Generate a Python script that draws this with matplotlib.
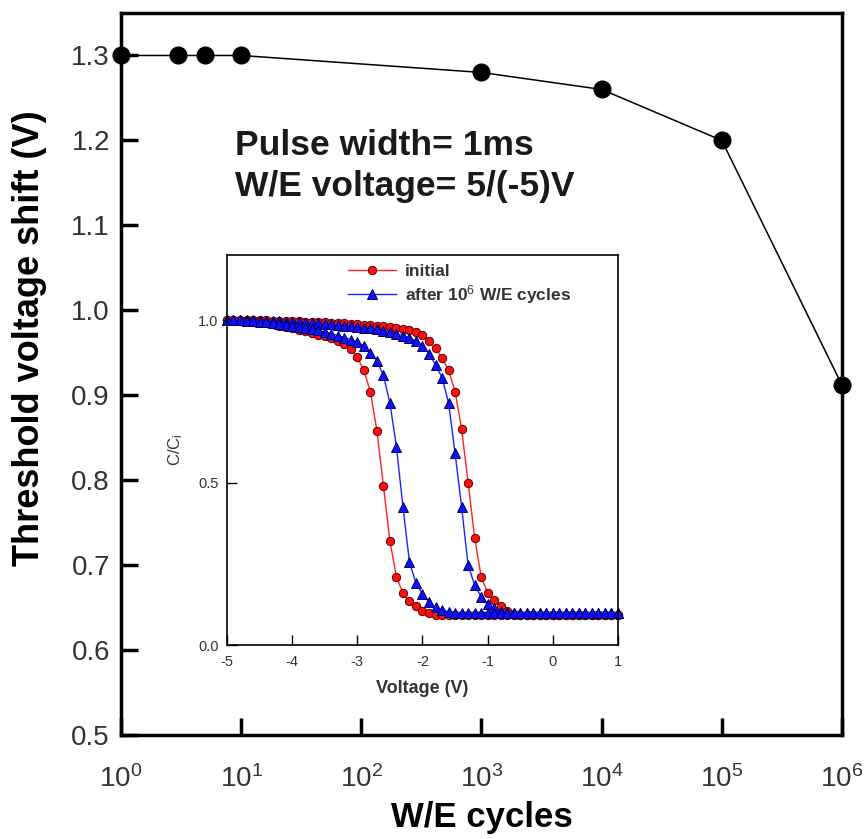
import numpy as np
import matplotlib
matplotlib.use('Agg')
import matplotlib.pyplot as plt

plt.rcParams['font.family'] = ['Liberation Sans', 'DejaVu Sans']
plt.rcParams['mathtext.fontset'] = 'custom'
plt.rcParams['mathtext.rm'] = 'Liberation Sans'
plt.rcParams['mathtext.it'] = 'Liberation Sans:italic'
plt.rcParams['mathtext.bf'] = 'Liberation Sans:bold'

# main plot: threshold voltage shift vs W/E cycles
cycles = [1, 3, 5, 10, 1e3, 1e4, 1e5, 1e6]
vth_shift = [1.30, 1.30, 1.30, 1.30, 1.28, 1.26, 1.20, 0.912]
x_tick_labels = ['10$^{0}$', '10$^{1}$', '10$^{2}$', '10$^{3}$',
                 '10$^{4}$', '10$^{5}$', '10$^{6}$']

# inset: C/Ci vs gate voltage, sweep step 0.1 V from -5 to 1
voltage = np.round(np.arange(-50, 11) / 10, 1)

initial_up = [1.0, 1.0, 1.0, 1.0, 1.0, 0.999, 0.999, 0.998, 0.998, 0.997,
              0.997, 0.996, 0.995, 0.995, 0.994, 0.993, 0.992, 0.991, 0.99, 0.989,
              0.988, 0.986, 0.985, 0.983, 0.981, 0.979, 0.976, 0.973, 0.969, 0.962,
              0.953, 0.937, 0.913, 0.884, 0.845, 0.78, 0.665, 0.50, 0.33, 0.21,
              0.16, 0.138, 0.12, 0.105, 0.095, 0.092] + [0.092] * 15
initial_down = [1.0, 1.0, 0.998, 0.997, 0.995, 0.993, 0.99, 0.987, 0.983, 0.978,
                0.974, 0.97, 0.966, 0.961, 0.955, 0.95, 0.944, 0.935, 0.925, 0.91,
                0.885, 0.845, 0.78, 0.66, 0.49, 0.32, 0.21, 0.16, 0.135, 0.12,
                0.105, 0.098, 0.093] + [0.092] * 28
cycled_up = [1.0, 1.0, 1.0, 0.999, 0.999, 0.998, 0.998, 0.997, 0.996, 0.995,
             0.994, 0.993, 0.992, 0.991, 0.99, 0.989, 0.987, 0.985, 0.983, 0.981,
             0.979, 0.977, 0.974, 0.971, 0.967, 0.963, 0.958, 0.952, 0.945, 0.935,
             0.92, 0.897, 0.862, 0.823, 0.745, 0.59, 0.425, 0.245, 0.185, 0.148,
             0.127, 0.113, 0.106, 0.102] + [0.10] * 17
cycled_down = [1.0, 1.0, 0.999, 0.998, 0.997, 0.995, 0.993, 0.991, 0.989, 0.986,
               0.983, 0.98, 0.976, 0.972, 0.968, 0.963, 0.958, 0.952, 0.946, 0.94,
               0.932, 0.92, 0.90, 0.874, 0.83, 0.745, 0.61, 0.425, 0.255, 0.19,
               0.157, 0.132, 0.116, 0.107, 0.103] + [0.10] * 26

fig = plt.figure(figsize=(8.68, 8.39), dpi=100)
ax = fig.add_axes([0.1394, 0.124, 0.8306, 0.8605])

ax.plot(cycles, vth_shift, '-o', color='black', lw=1.1, markersize=12,
        clip_on=False, zorder=5)
ax.set_xscale('log')
ax.set_xlim(1, 1e6)
ax.set_ylim(0.5, 1.35)
ax.set_xticks([1, 1e1, 1e2, 1e3, 1e4, 1e5, 1e6])
ax.set_xticklabels(x_tick_labels)
ax.xaxis.set_minor_locator(matplotlib.ticker.NullLocator())
ax.set_yticks([0.5, 0.6, 0.7, 0.8, 0.9, 1.0, 1.1, 1.2, 1.3])
ax.set_yticklabels(['0.5', '0.6', '0.7', '0.8', '0.9', '1.0', '1.1', '1.2', '1.3'])
ax.tick_params(direction='in', length=12, width=2.5, labelsize=20,
               labelcolor='#333333')
ax.tick_params(axis='x', pad=22)
ax.tick_params(axis='y', pad=8)
for s in ax.spines.values():
    s.set_linewidth(2.5)
ax.set_xlabel('W/E cycles', fontsize=25, fontweight='bold')
ax.xaxis.set_label_coords(0.5, -0.092)
ax.set_ylabel('Threshold voltage shift (V)', fontsize=26, fontweight='bold')
ax.yaxis.set_label_coords(-0.103, 0.55)

ax.text(0.158, 0.817, 'Pulse width= 1ms', transform=ax.transAxes,
        fontsize=25.5, fontweight='bold', color='#1a1a1a', va='center')
ax.text(0.158, 0.759, 'W/E voltage= 5/(-5)V', transform=ax.transAxes,
        fontsize=25.5, fontweight='bold', color='#1a1a1a', va='center')

# inset
ins = fig.add_axes([0.2615, 0.2312, 0.4505, 0.4648])
red_kw = dict(color='#ff2020', lw=1.0, marker='o', markersize=6,
              markerfacecolor='#ff1010', markeredgecolor='#5a0000',
              markeredgewidth=0.7)
blue_kw = dict(color='#2020ff', lw=1.0, marker='^', markersize=6.5,
               markerfacecolor='#1010ff', markeredgecolor='#00005a',
               markeredgewidth=0.7)
ins.plot(voltage, initial_up, label='initial', clip_on=False, **red_kw)
ins.plot(voltage, initial_down, clip_on=False, **red_kw)
ins.plot(voltage, cycled_up, label='after 10$^{6}$ W/E cycles', clip_on=False,
         **blue_kw)
ins.plot(voltage, cycled_down, clip_on=False, **blue_kw)

ins.set_xlim(-5, 1)
ins.set_ylim(0, 1.2)
ins.set_xticks([-5, -4, -3, -2, -1, 0, 1])
ins.set_xticklabels(['-5', '-4', '-3', '-2', '-1', '0', '1'])
ins.set_yticks([0.0, 0.5, 1.0])
ins.set_yticklabels(['0.0', '0.5', '1.0'])
ins.tick_params(direction='in', length=7, width=1, labelsize=10.5,
                labelcolor='#333333')
ins.tick_params(axis='x', pad=7)
ins.tick_params(axis='y', pad=6)
for s in ins.spines.values():
    s.set_linewidth(1.2)
ins.set_xlabel('Voltage (V)', fontsize=13, fontweight='bold', color='#333333')
ins.xaxis.set_label_coords(0.5, -0.09)
ins.set_ylabel('C/C$_\\mathrm{i}$', fontsize=12, color='#333333')
ins.yaxis.set_label_coords(-0.107, 0.5)
leg = ins.legend(loc='upper left', bbox_to_anchor=(0.309, 0.978),
                 frameon=False, prop={'weight': 'bold', 'size': 12.5},
                 handlelength=2.8, handletextpad=0.5, labelspacing=0.25,
                 borderpad=0, borderaxespad=0)
for t in leg.get_texts():
    t.set_color('#333333')

fig.savefig('out.png', dpi=100)
